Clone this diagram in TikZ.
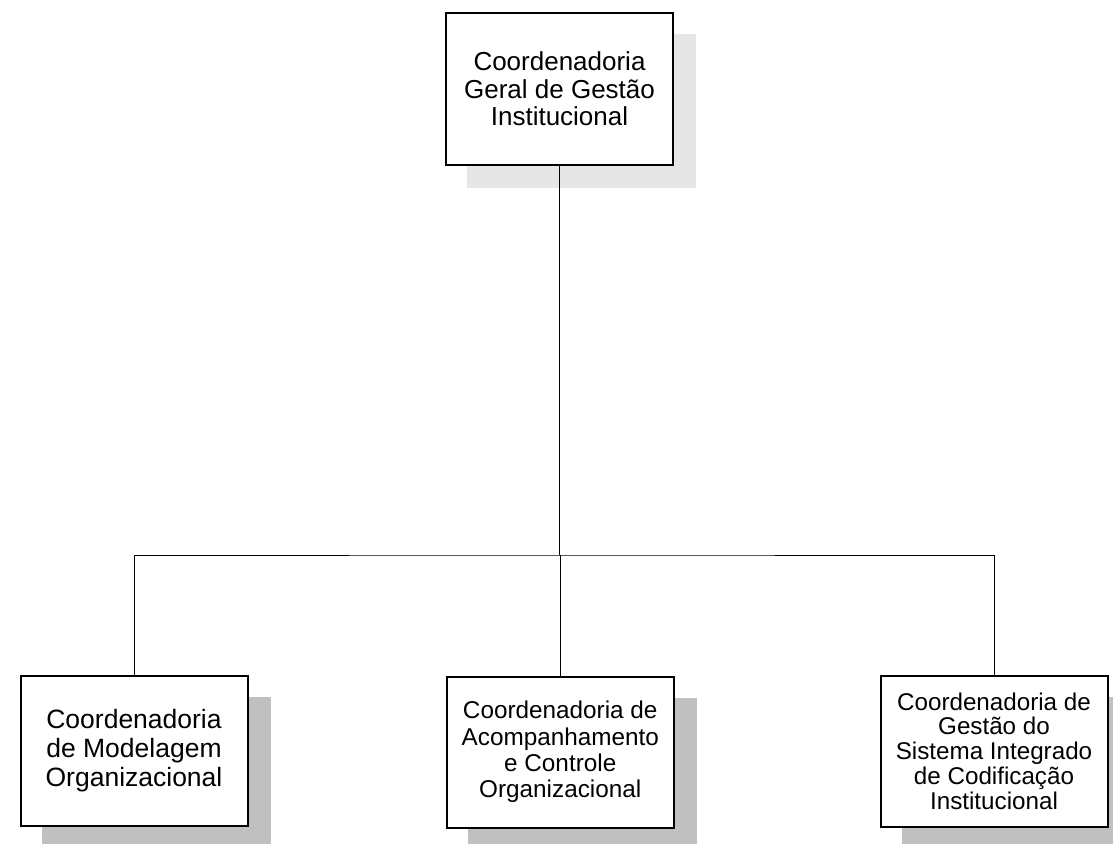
\documentclass[tikz,border=0pt]{standalone}
\usepackage{fontspec}
\setmainfont{Liberation Sans}
\usetikzlibrary{backgrounds}
\definecolor{shadelight}{HTML}{E6E6E6}
\definecolor{shadedark}{HTML}{C0C0C0}
\begin{document}
\begin{tikzpicture}[x=1pt,y=-1pt,
  box/.style={draw=black, line width=2pt, fill=white, align=center, inner sep=0pt, anchor=north west},
  conn/.style={draw=black, line width=1pt}]
\useasboundingbox (0,0) rectangle (1113,843);
% boxes
\node[box, minimum width=227pt, minimum height=151pt, font=\fontsize{26}{27.5}\selectfont] (top) at (445,12.5)
  {Coordenadoria\\Geral de Gestão\\Institucional};
\node[box, minimum width=227pt, minimum height=150.5pt, font=\fontsize{26.5}{29}\selectfont] (left) at (19.5,674.5)
  {Coordenadoria\\de Modelagem\\Organizacional};
\node[box, minimum width=226.5pt, minimum height=151pt, font=\fontsize{24.3}{26.3}\selectfont] (mid) at (446,675.5)
  {Coordenadoria de\\Acompanhamento\\e Controle\\Organizacional};
\node[box, minimum width=227pt, minimum height=151pt, font=\fontsize{24.2}{24.8}\selectfont] (right) at (879.5,674.5)
  {Coordenadoria de\\Gestão do\\Sistema Integrado\\de Codificação\\Institucional};
\coordinate (bus) at (top.south |- 0,555);
\begin{scope}[on background layer]
  % shadows
  \fill[shadelight] ([shift={(22,22)}]top.north west) rectangle ([shift={(22,22)}]top.south east);
  \fill[shadedark] ([shift={(22,22)}]left.north west) rectangle ([shift={(22,22)}]left.south east);
  \fill[shadedark] ([shift={(22,22)}]mid.north west) rectangle ([shift={(22,22)}]mid.south east);
  \fill[shadedark] ([shift={(22,22)}]right.north west) rectangle ([shift={(22,22)}]right.south east);
\end{scope}
% connectors
\draw[conn] (top.south) -- (bus);
\draw[conn] (left.north) |- (bus) -| (right.north);
\draw[conn] (mid.north) -- (mid.north |- bus);
\end{tikzpicture}
\end{document}
